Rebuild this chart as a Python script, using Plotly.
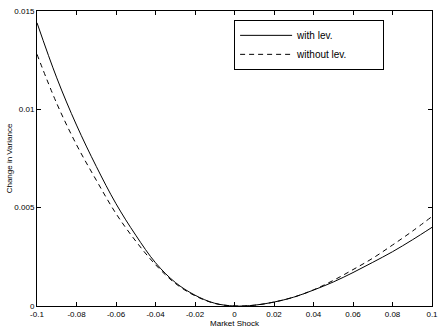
import plotly.graph_objects as go

shock = [-0.10, -0.09, -0.08, -0.07, -0.06, -0.05, -0.04, -0.03, -0.02, -0.01, 0.0,
         0.01, 0.02, 0.03, 0.04, 0.05, 0.06, 0.07, 0.08, 0.09, 0.10]
with_lev = [0.0144, 0.0116, 0.0092, 0.0071, 0.0052, 0.0036, 0.0022, 0.0012, 0.00055, 0.00014, 0.0,
            0.00004, 0.0002, 0.00045, 0.00081, 0.00122, 0.0017, 0.00222, 0.00276, 0.00336, 0.0040]
without_lev = [0.0128, 0.0103, 0.0082, 0.0064, 0.0047, 0.0033, 0.0021, 0.00115, 0.00052, 0.00013, 0.0,
               0.00004, 0.0002, 0.00045, 0.00082, 0.0013, 0.00185, 0.00243, 0.0031, 0.0038, 0.00455]

x_ticks = [-0.1, -0.08, -0.06, -0.04, -0.02, 0, 0.02, 0.04, 0.06, 0.08, 0.1]
x_labels = ["-0.1", "-0.08", "-0.06", "-0.04", "-0.02", "0", "0.02", "0.04", "0.06", "0.08", "0.1"]
y_ticks = [0, 0.005, 0.01, 0.015]
y_labels = ["0", "0.005", "0.01", "0.015"]
series_names = ["with lev.", "without lev."]

font = "Liberation Sans, Arial, sans-serif"
pad = "&nbsp;" * 11

fig = go.Figure()
fig.add_trace(go.Scatter(x=shock, y=with_lev, mode="lines", name=series_names[0] + pad,
                         line=dict(color="black", width=1, shape="spline")))
fig.add_trace(go.Scatter(x=shock, y=without_lev, mode="lines", name=series_names[1] + pad,
                         line=dict(color="black", width=1, dash="5px,4px", shape="spline")))

fig.update_layout(
    width=445, height=335,
    margin=dict(l=37, r=7, t=9, b=29),
    paper_bgcolor="white", plot_bgcolor="white",
    font=dict(family=font, size=8, color="black"),
    legend=dict(x=0.499, y=0.97, xanchor="left", yanchor="top",
                bordercolor="black", borderwidth=1, bgcolor="white",
                font=dict(size=10, family=font), tracegroupgap=0,
                itemwidth=52),
    showlegend=True,
)
fig.update_xaxes(range=[-0.1, 0.1], tickvals=x_ticks, ticktext=x_labels,
                 ticks="inside", ticklen=4, tickcolor="black",
                 showline=True, linecolor="black", linewidth=1, mirror="allticks",
                 showgrid=False, zeroline=False,
                 title=dict(text="Market Shock", standoff=2, font=dict(size=8)))
fig.update_yaxes(range=[0, 0.015], tickvals=y_ticks, ticktext=y_labels,
                 ticks="inside", ticklen=4, tickcolor="black",
                 showline=True, linecolor="black", linewidth=1, mirror="allticks",
                 showgrid=False, zeroline=False,
                 title=dict(text="Change in Variance", standoff=0, font=dict(size=8)))

fig.write_html("out.html")
